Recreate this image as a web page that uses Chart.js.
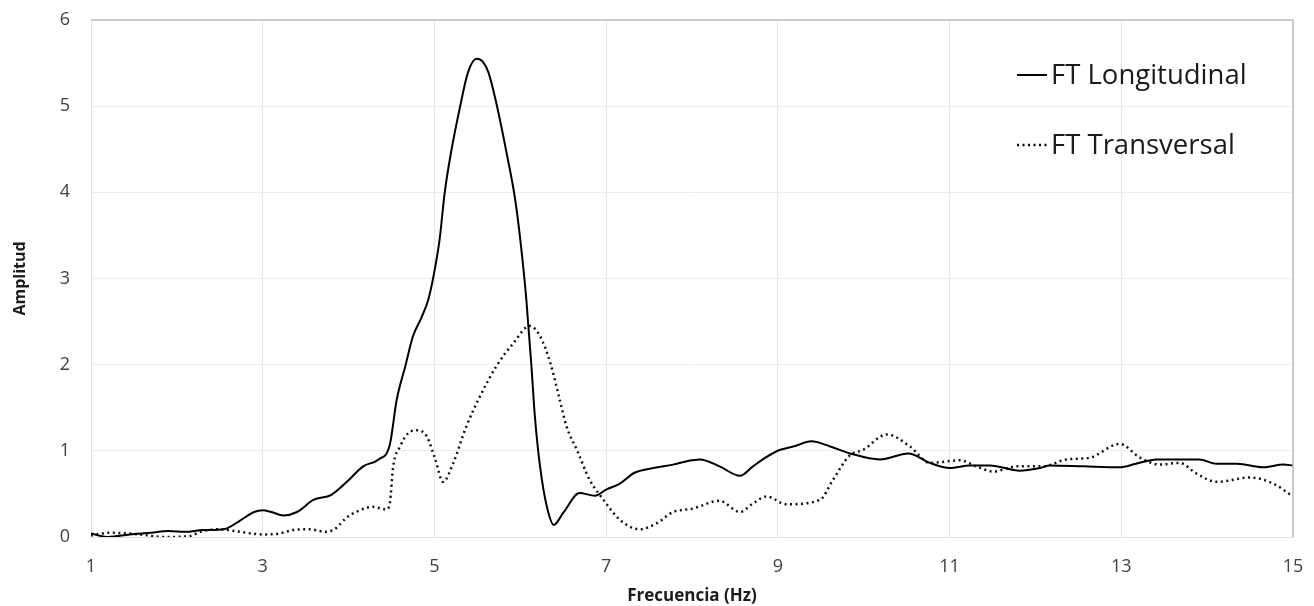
<!DOCTYPE html>
<html>
<head>
<meta charset="utf-8">
<script src="https://cdn.jsdelivr.net/npm/chart.js@4.4.0/dist/chart.umd.min.js"></script>
<style>
  html, body { margin: 0; padding: 0; background: #fff; }
  #box { width: 1314px; height: 606px; position: relative; }
</style>
</head>
<body>
<div id="box"><canvas id="grafico"></canvas></div>
<script>
const xTicks = [1, 3, 5, 7, 9, 11, 13, 15];
const yTicks = [0, 1, 2, 3, 4, 5, 6];

const longFreq = [1.0,1.2,1.45,1.7,1.9,2.1,2.3,2.55,2.75,2.9,3.0,3.1,3.24,3.4,3.59,3.8,3.98,4.17,4.35,4.48,
  4.56,4.66,4.75,4.85,4.93,4.99,5.06,5.12,5.2,5.3,5.39,5.49,5.56,5.63,5.72,5.84,5.94,6.0,6.07,6.13,
  6.17,6.23,6.31,6.39,6.5,6.69,6.87,7.0,7.16,7.32,7.55,7.78,7.94,8.09,8.32,8.56,8.71,8.87,9.02,9.18,
  9.39,9.61,9.84,10.19,10.52,10.77,11.0,11.24,11.47,11.82,12.05,12.17,12.56,12.98,13.17,13.41,13.91,14.11,14.35,14.65,
  14.89,15.0];
const longAmp = [0.04,0.0,0.03,0.05,0.07,0.06,0.08,0.09,0.2,0.29,0.31,0.29,0.25,0.29,0.43,0.49,0.64,0.82,0.90,1.07,
  1.59,1.98,2.33,2.55,2.76,3.03,3.45,4.0,4.5,5.0,5.39,5.55,5.52,5.39,5.04,4.46,3.92,3.45,2.76,1.98,
  1.40,0.82,0.35,0.14,0.28,0.51,0.48,0.55,0.62,0.74,0.80,0.84,0.88,0.90,0.82,0.71,0.82,0.93,1.01,1.05,
  1.11,1.05,0.97,0.90,0.97,0.86,0.80,0.83,0.83,0.77,0.80,0.83,0.82,0.81,0.85,0.90,0.90,0.85,0.85,0.81,
  0.84,0.83];

const transFreq = [1.0,1.22,1.57,1.84,2.15,2.27,2.5,2.73,3.0,3.19,3.35,3.54,3.73,3.85,3.97,4.13,4.28,4.44,4.48,4.52,
  4.6,4.69,4.79,4.91,5.01,5.1,5.22,5.37,5.53,5.72,5.92,6.11,6.23,6.35,6.46,6.54,6.66,6.81,6.97,7.16,
  7.39,7.59,7.78,8.01,8.32,8.56,8.71,8.87,9.1,9.49,9.64,9.84,9.99,10.27,10.54,10.77,11.12,11.31,11.51,11.78,
  12.09,12.36,12.63,12.98,13.22,13.45,13.68,13.87,14.11,14.5,14.77,15.0];
const transAmp = [0.02,0.05,0.03,0.0,0.01,0.06,0.09,0.06,0.03,0.04,0.08,0.09,0.06,0.10,0.22,0.31,0.35,0.32,0.39,0.82,
  1.05,1.20,1.24,1.17,0.90,0.64,0.86,1.28,1.63,1.98,2.25,2.45,2.33,2.02,1.59,1.28,1.01,0.66,0.43,0.20,
  0.09,0.16,0.29,0.33,0.42,0.29,0.39,0.47,0.38,0.43,0.66,0.95,1.01,1.19,1.05,0.86,0.89,0.82,0.76,0.82,
  0.82,0.90,0.92,1.08,0.92,0.84,0.86,0.74,0.64,0.69,0.62,0.47];

const seriesNames = ['FT Longitudinal', 'FT Transversal'];

const FONT = "'Open Sans', 'Noto Sans', sans-serif";
const TEXT = '#404040';

function pares(xs, ys) {
  return xs.map((x, i) => ({ x: x, y: ys[i] }));
}

// Leyenda dentro del área del gráfico + borde superior/derecho
const extras = {
  id: 'extras',
  afterDraw(chart) {
    const ctx = chart.ctx;
    const a = chart.chartArea;
    ctx.save();
    ctx.strokeStyle = '#bfbfbf';
    ctx.lineWidth = 1.5;
    ctx.beginPath();
    ctx.moveTo(a.left, a.top);
    ctx.lineTo(a.right, a.top);
    ctx.lineTo(a.right, a.bottom);
    ctx.stroke();

    const lx = a.right - 276;
    chart.data.datasets.forEach((ds, i) => {
      const y = a.top + 55 + i * 70;
      ctx.strokeStyle = '#000';
      ctx.lineWidth = ds.borderWidth;
      ctx.setLineDash(ds.borderDash || []);
      ctx.beginPath();
      ctx.moveTo(lx, y);
      ctx.lineTo(lx + 30, y);
      ctx.stroke();
      ctx.setLineDash([]);
      ctx.fillStyle = '#1a1a1a';
      ctx.font = '27.5px ' + FONT;
      ctx.textBaseline = 'middle';
      ctx.fillText(ds.label, lx + 34, y + 1);
    });
    ctx.restore();
  }
};

new Chart(document.getElementById('grafico'), {
  type: 'line',
  data: {
    datasets: [{
      label: seriesNames[0],
      data: pares(longFreq, longAmp),
      borderColor: '#000',
      borderWidth: 2,
      pointRadius: 0,
      cubicInterpolationMode: 'monotone'
    }, {
      label: seriesNames[1],
      data: pares(transFreq, transAmp),
      borderColor: '#111',
      borderWidth: 2.5,
      borderDash: [2, 3.5],
      pointRadius: 0,
      cubicInterpolationMode: 'monotone'
    }]
  },
  options: {
    responsive: true,
    maintainAspectRatio: false,
    animation: false,
    layout: { padding: { top: 20, right: 21, left: 0, bottom: 0 } },
    plugins: { legend: { display: false }, tooltip: { enabled: false } },
    scales: {
      x: {
        type: 'linear',
        min: 1, max: 15,
        afterBuildTicks: s => { s.ticks = xTicks.map(v => ({ value: v })); },
        afterFit: s => { s.height = 69; s.paddingLeft = 0; s.paddingRight = 0; },
        grid: { color: '#e6e6e6', drawTicks: false },
        border: { color: '#e0e0e0' },
        ticks: { color: TEXT, font: { family: FONT, size: 18 }, padding: 19, maxRotation: 0 },
        title: { display: true, text: 'Frecuencia (Hz)', color: '#1a1a1a', font: { family: FONT, size: 17, weight: 'bold' }, padding: { top: 3, bottom: 0 } }
      },
      y: {
        min: 0, max: 6,
        afterBuildTicks: s => { s.ticks = yTicks.map(v => ({ value: v })); },
        afterFit: s => { s.width = 91; s.paddingTop = 0; s.paddingBottom = 0; },
        grid: { color: '#ececec', drawTicks: false },
        border: { color: '#e0e0e0' },
        ticks: { color: TEXT, font: { family: FONT, size: 18 }, padding: 21 },
        title: { display: true, text: 'Amplitud', color: '#1a1a1a', font: { family: FONT, size: 16, weight: 'bold' }, padding: { top: 11, bottom: 0 } }
      }
    }
  },
  plugins: [extras]
});
</script>
</body>
</html>
